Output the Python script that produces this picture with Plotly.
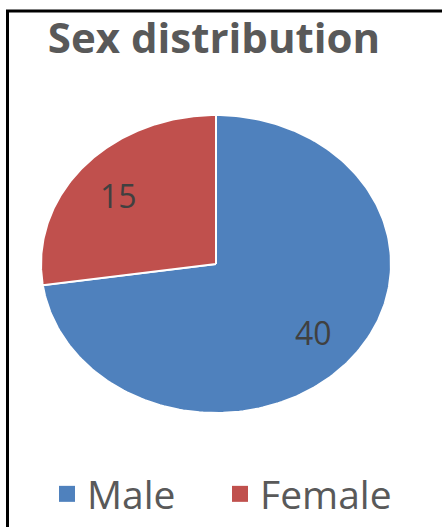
import numpy as np
import plotly.graph_objects as go

# ---- data ----
categories = ["Male", "Female"]
values = [40, 15]
colors = ["#4F81BD", "#C0504D"]
title_text = "Sex distribution"

W, H = 442, 527
# pie placement (pixels)
cx_px, cy_px, rx_px, ry_px = 216, 264, 175, 149

fig = go.Figure()

total = sum(values)
start = 90.0  # degrees, 12 o'clock; slices go clockwise
label_pos = []
for cat, val, col in zip(categories, values, colors):
    sweep = 360.0 * val / total
    angs = np.radians(np.linspace(start, start - sweep, 200))
    xs = np.concatenate([[0], np.cos(angs), [0]])
    ys = np.concatenate([[0], np.sin(angs), [0]])
    fig.add_trace(go.Scatter(
        x=xs, y=ys, mode="lines", fill="toself", fillcolor=col,
        line=dict(color="white", width=2), hoverinfo="skip",
        showlegend=False, legendgroup=cat))
    mid = np.radians(start - sweep / 2)
    label_pos.append((0.74 * np.cos(mid), 0.7 * np.sin(mid), val))
    start -= sweep

# legend entries
for cat, col in zip(categories, colors):
    fig.add_trace(go.Scatter(
        x=[None], y=[None], mode="markers", name=cat, legendgroup=cat,
        marker=dict(symbol="square", size=16, color=col)))

for lx, ly, val in label_pos:
    fig.add_annotation(x=lx, y=ly, text=str(val), showarrow=False,
                       font=dict(family="Open Sans", size=32, color="#404040"))

fig.update_xaxes(range=[-cx_px / rx_px, (W - cx_px) / rx_px], visible=False)
fig.update_yaxes(range=[(cy_px - H) / ry_px, cy_px / ry_px], visible=False)

# frame lines (left and top)
fig.add_shape(type="line", xref="paper", yref="paper",
              x0=7.5 / W, x1=7.5 / W, y0=0, y1=1 - 11 / H,
              line=dict(color="black", width=3))
fig.add_shape(type="line", xref="paper", yref="paper",
              x0=6 / W, x1=1, y0=1 - 11 / H, y1=1 - 11 / H,
              line=dict(color="black", width=3))

fig.update_layout(
    width=W, height=H,
    margin=dict(l=0, r=0, t=0, b=0),
    paper_bgcolor="white", plot_bgcolor="white",
    title=dict(text="<b>" + title_text + "</b>", x=214 / W, xanchor="center",
               y=1 - 38 / H, yanchor="middle",
               font=dict(family="Open Sans", size=42, color="#595959")),
    showlegend=True,
    legend=dict(orientation="h", x=47 / W, xanchor="left", y=1 - 494 / H,
                yanchor="middle", font=dict(family="Open Sans", size=39, color="#595959"),
                itemsizing="trace", entrywidth=128, bgcolor="rgba(0,0,0,0)"),
)

fig.write_html("out.html", post_script="document.body.style.margin='0';",
               config={"displayModeBar": False})
